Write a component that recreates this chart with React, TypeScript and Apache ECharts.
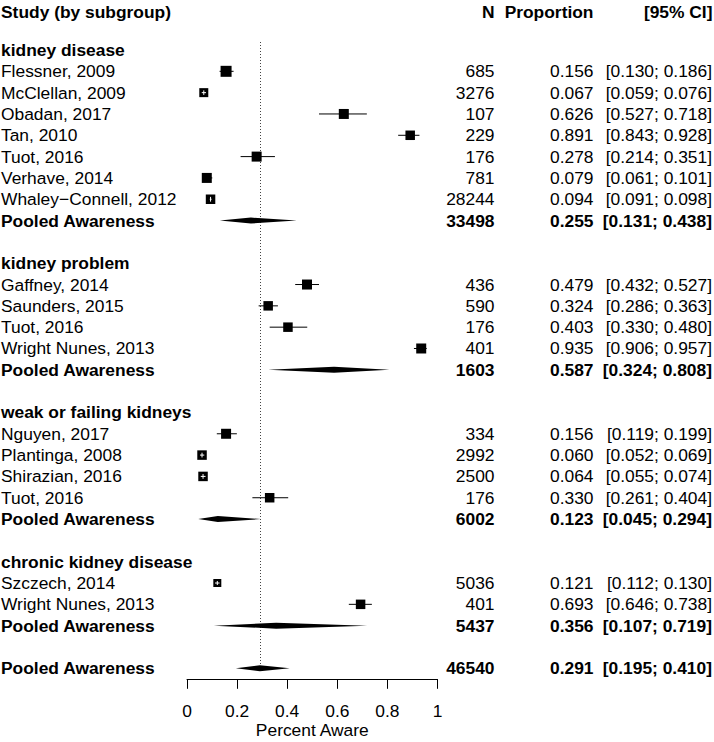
import React, { useEffect, useRef } from "react";
import * as echarts from "echarts";

// ---------------- data ----------------
const groupNames = ["kidney disease", "kidney problem", "weak or failing kidneys", "chronic kidney disease"];

const kdStudies = ["Flessner, 2009", "McClellan, 2009", "Obadan, 2017", "Tan, 2010", "Tuot, 2016", "Verhave, 2014", "Whaley\u2212Connell, 2012"];
const kdN = [685, 3276, 107, 229, 176, 781, 28244];
const kdProp = [0.156, 0.067, 0.626, 0.891, 0.278, 0.079, 0.094];
const kdLower = [0.130, 0.059, 0.527, 0.843, 0.214, 0.061, 0.091];
const kdUpper = [0.186, 0.076, 0.718, 0.928, 0.351, 0.101, 0.098];
const kdPooled = [33498, 0.255, 0.131, 0.438];

const kpStudies = ["Gaffney, 2014", "Saunders, 2015", "Tuot, 2016", "Wright Nunes, 2013"];
const kpN = [436, 590, 176, 401];
const kpProp = [0.479, 0.324, 0.403, 0.935];
const kpLower = [0.432, 0.286, 0.330, 0.906];
const kpUpper = [0.527, 0.363, 0.480, 0.957];
const kpPooled = [1603, 0.587, 0.324, 0.808];

const wfStudies = ["Nguyen, 2017", "Plantinga, 2008", "Shirazian, 2016", "Tuot, 2016"];
const wfN = [334, 2992, 2500, 176];
const wfProp = [0.156, 0.060, 0.064, 0.330];
const wfLower = [0.119, 0.052, 0.055, 0.261];
const wfUpper = [0.199, 0.069, 0.074, 0.404];
const wfPooled = [6002, 0.123, 0.045, 0.294];

const ckStudies = ["Szczech, 2014", "Wright Nunes, 2013"];
const ckN = [5036, 401];
const ckProp = [0.121, 0.693];
const ckLower = [0.112, 0.646];
const ckUpper = [0.130, 0.738];
const ckPooled = [5437, 0.356, 0.107, 0.719];

const overallPooled = [46540, 0.291, 0.195, 0.410];

const pooledLabel = "Pooled Awareness";
const headerLabels = ["Study (by subgroup)", "N", "Proportion", "[95% CI]"];
const xTicks = [0, 0.2, 0.4, 0.6, 0.8, 1];
const xAxisTitle = "Percent Aware";

// ---------------- styles (box sizes in px) ----------------
const kdBox = [11, 9, 10, 9.5, 10, 10, 9.5];
const kpBox = [10, 9.5, 9.5, 10];
const wfBox = [10, 9.5, 9.5, 9.5];
const ckBox = [8, 9.5];

const FONT = "'Liberation Sans', Arial, Helvetica, sans-serif";
const FS = 17.4;

type Row = {
  row: number;
  kind: "group" | "study" | "pooled";
  label: string;
  n?: number;
  p?: number;
  lo?: number;
  hi?: number;
  box?: number;
};

function buildRows(): Row[] {
  const groups = [
    { s: kdStudies, n: kdN, p: kdProp, lo: kdLower, hi: kdUpper, pooled: kdPooled, box: kdBox },
    { s: kpStudies, n: kpN, p: kpProp, lo: kpLower, hi: kpUpper, pooled: kpPooled, box: kpBox },
    { s: wfStudies, n: wfN, p: wfProp, lo: wfLower, hi: wfUpper, pooled: wfPooled, box: wfBox },
    { s: ckStudies, n: ckN, p: ckProp, lo: ckLower, hi: ckUpper, pooled: ckPooled, box: ckBox },
  ];
  const rows: Row[] = [];
  let r = 0;
  groups.forEach((g, gi) => {
    rows.push({ row: r++, kind: "group", label: groupNames[gi] });
    g.s.forEach((name, i) => {
      rows.push({ row: r++, kind: "study", label: name, n: g.n[i], p: g.p[i], lo: g.lo[i], hi: g.hi[i], box: g.box[i] });
    });
    rows.push({ row: r++, kind: "pooled", label: pooledLabel, n: g.pooled[0], p: g.pooled[1], lo: g.pooled[2], hi: g.pooled[3] });
    r++;
  });
  rows.push({ row: r, kind: "pooled", label: pooledLabel, n: overallPooled[0], p: overallPooled[1], lo: overallPooled[2], hi: overallPooled[3] });
  return rows;
}

const rows = buildRows();
const lastRow = rows[rows.length - 1].row;

export default function App() {
  const ref = useRef<HTMLDivElement>(null);

  useEffect(() => {
    if (!ref.current) return;
    const chart = echarts.init(ref.current, undefined, { renderer: "svg" });

    const markRows = rows.filter((r) => r.kind !== "group");

    const txt = (text: string, x: number, y: number, align: string, bold: boolean) => ({
      type: "text",
      style: {
        text,
        x,
        y,
        align,
        verticalAlign: "middle",
        fontSize: FS,
        fontFamily: FONT,
        fontWeight: bold ? "bold" : "normal",
        fill: "#000",
      },
    });

    const option: any = {
      animation: false,
      backgroundColor: "#fff",
      grid: { left: 187, width: 250.5, top: 50, bottom: 73.7, containLabel: false, outerBoundsMode: "none" },
      xAxis: {
        type: "value",
        min: xTicks[0],
        max: xTicks[xTicks.length - 1],
        interval: 0.2,
        position: "bottom",
        offset: 11,
        axisLine: { show: true, onZero: false, lineStyle: { color: "#000", width: 1 } },
        axisTick: { show: true, length: 9.5, lineStyle: { color: "#000", width: 1 } },
        axisLabel: { color: "#000", fontSize: FS, fontFamily: FONT, margin: 23 },
        splitLine: { show: false },
        name: xAxisTitle,
        nameLocation: "middle",
        nameGap: 42.5,
        nameMoveOverlap: false,
        nameTextStyle: { color: "#000", fontSize: FS, fontFamily: FONT },
      },
      yAxis: {
        type: "value",
        inverse: true,
        min: 0,
        max: lastRow,
        show: false,
        splitLine: { show: false },
      },
      graphic: [
        { type: "text", style: { text: headerLabels[0], x: 1, y: 12, align: "left", verticalAlign: "middle", fontSize: FS, fontFamily: FONT, fontWeight: "bold", fill: "#000" } },
        { type: "text", style: { text: headerLabels[1], x: 494.5, y: 12, align: "right", verticalAlign: "middle", fontSize: FS, fontFamily: FONT, fontWeight: "bold", fill: "#000" } },
        { type: "text", style: { text: headerLabels[2], x: 593.5, y: 12, align: "right", verticalAlign: "middle", fontSize: FS, fontFamily: FONT, fontWeight: "bold", fill: "#000" } },
        { type: "text", style: { text: headerLabels[3], x: 712.5, y: 12, align: "right", verticalAlign: "middle", fontSize: FS, fontFamily: FONT, fontWeight: "bold", fill: "#000" } },
      ],
      series: [
        {
          type: "custom",
          name: "reference",
          clip: false,
          z: 1,
          data: [[overallPooled[1], lastRow]],
          renderItem: (params: any, api: any) => {
            const top = api.coord([api.value(0), -0.375]);
            const bot = api.coord([api.value(0), api.value(1)]);
            return {
              type: "line",
              shape: { x1: Math.round(top[0]) + 0.5, y1: top[1], x2: Math.round(top[0]) + 0.5, y2: bot[1] },
              style: { stroke: "#444", lineWidth: 1, lineDash: [1, 2] },
            };
          },
        },
        {
          type: "custom",
          name: "forest",
          clip: false,
          z: 2,
          data: markRows.map((r) => [r.p, r.row, r.lo, r.hi]),
          renderItem: (params: any, api: any) => {
            const r = markRows[params.dataIndex];
            const c = api.coord([api.value(0), api.value(1)]);
            const l = api.coord([api.value(2), api.value(1)]);
            const h = api.coord([api.value(3), api.value(1)]);
            const cy = c[1];
            if (r.kind === "pooled") {
              const hh = 3;
              return {
                type: "polygon",
                shape: { points: [[l[0], cy], [c[0], cy - hh], [h[0], cy], [c[0], cy + hh]] },
                style: { fill: "#000", stroke: "none" },
              };
            }
            const s = r.box || 10;
            const inside = l[0] >= c[0] - s / 2 && h[0] <= c[0] + s / 2;
            const children: any[] = [];
            if (!inside) {
              children.push({
                type: "line",
                shape: { x1: l[0], y1: cy, x2: h[0], y2: cy },
                style: { stroke: "#000", lineWidth: 1 },
              });
            }
            children.push({
              type: "rect",
              shape: { x: c[0] - s / 2, y: cy - s / 2, width: s, height: s },
              style: { fill: "#000" },
            });
            if (inside) {
              children.push({
                type: "line",
                shape: { x1: l[0], y1: cy, x2: h[0], y2: cy },
                style: { stroke: "#fff", lineWidth: 1 },
              });
              children.push({
                type: "line",
                shape: { x1: c[0], y1: cy - s * 0.25, x2: c[0], y2: cy + s * 0.25 },
                style: { stroke: "#fff", lineWidth: 1 },
              });
            }
            return { type: "group", children };
          },
        },
        {
          type: "custom",
          name: "table",
          clip: false,
          z: 3,
          data: rows.map((r) => [0, r.row]),
          renderItem: (params: any, api: any) => {
            const r = rows[params.dataIndex];
            const y = api.coord([0, api.value(1)])[1];
            const bold = r.kind !== "study";
            const children: any[] = [txt(r.label, 1, y, "left", bold)];
            if (r.kind !== "group") {
              children.push(txt(String(r.n), 494.5, y, "right", bold));
              children.push(txt((r.p as number).toFixed(3), 593.5, y, "right", bold));
              children.push(txt(`[${(r.lo as number).toFixed(3)}; ${(r.hi as number).toFixed(3)}]`, 712, y, "right", bold));
            }
            return { type: "group", children };
          },
        },
      ],
    };

    chart.setOption(option);
    return () => chart.dispose();
  }, []);

  return <div ref={ref} style={{ position: "absolute", left: 0, top: 0, width: 714, height: 742 }} />;
}
